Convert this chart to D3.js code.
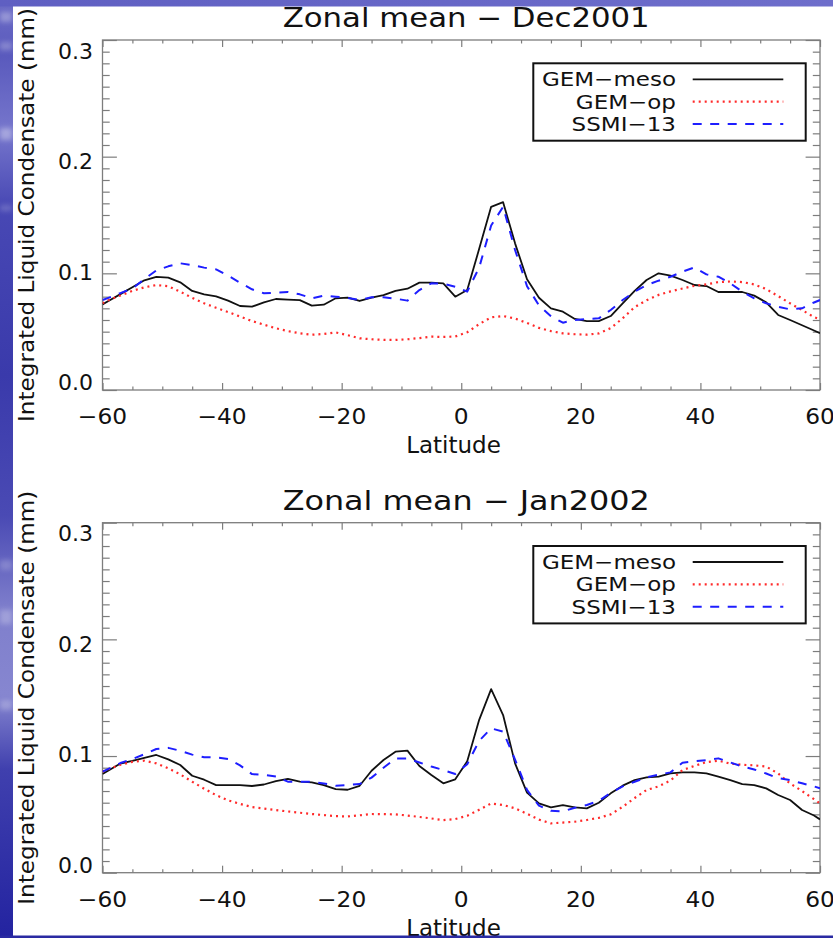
<!DOCTYPE html>
<html>
<head>
<meta charset="utf-8">
<script src="https://cdn.jsdelivr.net/npm/d3@7"></script>
<style>
  html, body { margin: 0; padding: 0; background: #ffffff; }
  svg { display: block; }
  text { font-family: "DejaVu Sans", "Liberation Sans", sans-serif; fill: #111; }
</style>
</head>
<body>
<svg id="chart" width="833" height="938"></svg>
<script>
// Latitude grid of the zonal means (degrees)
const latitudes = [-60, -59, -57, -55, -53, -51, -49, -47, -45, -43, -41, -39, -37, -35, -33, -31,
  -29, -27, -25, -23, -21, -19, -17, -15, -13, -11, -9, -7, -5, -3, -1,
  1, 3, 5, 7, 9, 11, 13, 15, 17, 19, 21, 23, 25, 27, 29, 31, 33, 35, 37, 39,
  41, 43, 45, 47, 49, 51, 53, 55, 57, 59, 60];

// December 2001 (mm)
const decMeso = [0.0734, 0.0763, 0.0822, 0.0881, 0.094, 0.097, 0.0963, 0.0923, 0.0849, 0.082, 0.0803, 0.0766, 0.072, 0.0714, 0.0751, 0.078,
  0.0774, 0.077, 0.0723, 0.0731, 0.0786, 0.0791, 0.0763, 0.0791, 0.0814, 0.085, 0.0868, 0.092, 0.092, 0.0914, 0.08,
  0.0857, 0.121, 0.157, 0.161, 0.1257, 0.0949, 0.0791, 0.07, 0.0671, 0.0609, 0.0591, 0.0591, 0.0634, 0.0743, 0.0849, 0.0943, 0.1, 0.098, 0.0943, 0.09,
  0.0891, 0.084, 0.084, 0.084, 0.0809, 0.0751, 0.0643, 0.06, 0.0555, 0.051, 0.0486];
const decOp = [0.0743, 0.077, 0.081, 0.085, 0.088, 0.090, 0.089, 0.0843, 0.079, 0.0743, 0.0705, 0.0668, 0.063, 0.0591, 0.056, 0.0529,
  0.0505, 0.0486, 0.0474, 0.048, 0.0494, 0.047, 0.0443, 0.0435, 0.043, 0.0429, 0.0435, 0.0445, 0.0457, 0.0455, 0.0458,
  0.0495, 0.0565, 0.0623, 0.0634, 0.0612, 0.0575, 0.0532, 0.0505, 0.0486, 0.0478, 0.0474, 0.0485, 0.053, 0.0615, 0.071, 0.077, 0.0815, 0.0845, 0.087, 0.0893,
  0.0905, 0.0925, 0.093, 0.0925, 0.0905, 0.0865, 0.0805, 0.0743, 0.0685, 0.0625, 0.0606];
const decSsmi = [0.0771, 0.079, 0.083, 0.087, 0.095, 0.1025, 0.106, 0.1086, 0.107, 0.1049, 0.1034, 0.098, 0.092, 0.0863, 0.0829, 0.0835,
  0.084, 0.082, 0.0786, 0.0809, 0.08, 0.079, 0.0771, 0.0795, 0.0795, 0.0783, 0.0766, 0.0857, 0.0914, 0.0911, 0.0885,
  0.0843, 0.105, 0.141, 0.157, 0.12, 0.089, 0.0725, 0.0633, 0.0577, 0.06, 0.0609, 0.0614, 0.0686, 0.0771, 0.0843, 0.09, 0.0937, 0.0971, 0.1014, 0.1051,
  0.0991, 0.0971, 0.0914, 0.0843, 0.0786, 0.0743, 0.0714, 0.0691, 0.07, 0.075, 0.0771];

// January 2002 (mm)
const janMeso = [0.0846, 0.0876, 0.0936, 0.0958, 0.0985, 0.1009, 0.0971, 0.0923, 0.0831, 0.0797, 0.0751, 0.0751, 0.0751, 0.0743, 0.0756, 0.0785,
  0.0805, 0.078, 0.0774, 0.0751, 0.0717, 0.0711, 0.0745, 0.0874, 0.0966, 0.1037, 0.1046, 0.0914, 0.0837, 0.0766, 0.08,
  0.0955, 0.131, 0.1574, 0.1351, 0.0937, 0.0686, 0.0594, 0.056, 0.058, 0.056, 0.0551, 0.06, 0.068, 0.0746, 0.0794, 0.0817, 0.0823, 0.0851, 0.086, 0.086,
  0.0851, 0.0823, 0.0794, 0.076, 0.0751, 0.0723, 0.0666, 0.0623, 0.0537, 0.049, 0.0457];
const janOp = [0.0866, 0.0888, 0.0925, 0.095, 0.096, 0.0937, 0.0895, 0.0843, 0.078, 0.072, 0.0665, 0.062, 0.059, 0.0563, 0.055, 0.0537,
  0.0525, 0.0514, 0.0503, 0.0494, 0.0485, 0.0482, 0.0492, 0.0503, 0.0502, 0.05, 0.049, 0.0478, 0.0465, 0.0451, 0.046,
  0.0488, 0.054, 0.0594, 0.058, 0.0552, 0.0505, 0.0455, 0.0423, 0.043, 0.0437, 0.0452, 0.047, 0.05, 0.0565, 0.064, 0.0709, 0.074, 0.079, 0.088, 0.0915,
  0.0948, 0.096, 0.0935, 0.0925, 0.092, 0.091, 0.085, 0.0765, 0.07, 0.063, 0.0594];
const janSsmi = [0.0866, 0.089, 0.094, 0.0975, 0.1015, 0.106, 0.107, 0.1045, 0.1012, 0.099, 0.0989, 0.0975, 0.092, 0.0845, 0.0838, 0.0825,
  0.078, 0.078, 0.078, 0.0765, 0.0746, 0.0752, 0.076, 0.0815, 0.09, 0.0978, 0.098, 0.0945, 0.091, 0.088, 0.0846,
  0.093, 0.113, 0.1237, 0.121, 0.097, 0.071, 0.0575, 0.053, 0.0525, 0.0557, 0.058, 0.0615, 0.0685, 0.074, 0.078, 0.0817, 0.084, 0.086, 0.0943, 0.0955,
  0.0965, 0.098, 0.0945, 0.091, 0.0885, 0.085, 0.081, 0.0794, 0.0766, 0.074, 0.0723];

const seriesNames = ["GEM\u2212meso", "GEM\u2212op", "SSMI\u221213"];
const panelTitles = ["Zonal mean \u2212 Dec2001", "Zonal mean \u2212 Jan2002"];
const xTickValues = [-60, -40, -20, 0, 20, 40, 60];
const yTickValues = [0.0, 0.1, 0.2, 0.3];
const xLabel = "Latitude";
const yLabel = "Integrated Liquid Condensate (mm)";

// ---- styling / layout ----
const W = 833, H = 938;
const plotLeft = 102.5, plotRight = 820, plotH = 350;
const panelTops = [40, 522.7];
const frameColor = "#7d7d7d";
const lineStyles = [
  { color: "#111111", width: 1.8, dash: null },
  { color: "#ff2a2a", width: 2.2, dash: "2,4" },
  { color: "#1e1eff", width: 2.0, dash: "9,8.5" }
];
const panels = [
  { title: panelTitles[0], series: [decMeso, decOp, decSsmi] },
  { title: panelTitles[1], series: [janMeso, janOp, janSsmi] }
];

const svg = d3.select("#chart");
const defs = svg.append("defs");

// slide background: blue band on the left and top edge
const bandGrad = defs.append("linearGradient").attr("id", "bandGrad")
  .attr("x1", 0).attr("y1", 0).attr("x2", 0).attr("y2", 1);
[[0, "#6c6cc6"], [0.06, "#5a5abd"], [0.14, "#7676cc"], [0.22, "#4848b4"], [0.4, "#3a3aab"],
 [0.55, "#4a4ab4"], [0.65, "#7f7fcc"], [0.74, "#8686d0"], [0.82, "#4040ae"], [1, "#2323a0"]]
  .forEach(([o, c]) => bandGrad.append("stop").attr("offset", o).attr("stop-color", c));
const topGrad = defs.append("linearGradient").attr("id", "topGrad")
  .attr("x1", 0).attr("y1", 0).attr("x2", 1).attr("y2", 0);
topGrad.append("stop").attr("offset", 0).attr("stop-color", "#5f5fc2");
topGrad.append("stop").attr("offset", 1).attr("stop-color", "#6e6ecb");
const soft = defs.append("filter").attr("id", "soft").attr("x", "-50%").attr("y", "-50%").attr("width", "200%").attr("height", "200%");
soft.append("feGaussianBlur").attr("stdDeviation", 2.5);

svg.append("rect").attr("width", W).attr("height", H).attr("fill", "#ffffff");
svg.append("rect").attr("x", 0).attr("y", 0).attr("width", 13).attr("height", H).attr("fill", "url(#bandGrad)");
const streaks = svg.append("g").attr("filter", "url(#soft)").attr("fill", "#ffffff");
[[12, 10, 0.3], [42, 8, 0.25], [128, 12, 0.35], [205, 6, 0.2], [560, 10, 0.2], [610, 14, 0.25], [700, 10, 0.25]]
  .forEach(([y, h, o]) => streaks.append("rect").attr("x", 0).attr("y", y).attr("width", 12).attr("height", h).attr("opacity", o));
svg.append("rect").attr("x", 0).attr("y", 0).attr("width", W).attr("height", 6.5).attr("fill", "url(#topGrad)");

const x = d3.scaleLinear().domain([-60, 60]).range([plotLeft, plotRight]);
const xMinor = d3.range(-60, 61, 5).filter(v => v % 20 !== 0);
const yMinor = d3.range(0, 31).filter(i => i % 10 !== 0).map(i => i / 100);

function tickGroup(g, axis, values, size) {
  g.call(axis.tickValues(values).tickSize(size).tickFormat(""));
  g.select(".domain").remove();
  g.selectAll(".tick line").attr("stroke", frameColor).attr("stroke-width", 1.2);
}

// stretch a text's glyphs by a factor, keeping its anchor
function widen(t, k) {
  const len = t.node().getComputedTextLength();
  t.attr("textLength", len * k).attr("lengthAdjust", "spacingAndGlyphs");
}

panels.forEach((p, pi) => {
  const top = panelTops[pi], bottom = top + plotH;
  const y = d3.scaleLinear().domain([0, 0.3]).range([bottom, top]);
  // tick labels sit on their own slightly compressed scale
  const yLab = d3.scaleLinear().domain([0, 0.3]).range([bottom, top + 18.5]);
  const g = svg.append("g");

  const clipId = "clip" + pi;
  defs.append("clipPath").attr("id", clipId).append("rect")
    .attr("x", plotLeft).attr("y", top).attr("width", plotRight - plotLeft).attr("height", plotH);

  // ticks on all four sides, pointing inward
  const xMaj = xTickValues, yMaj = yTickValues;
  tickGroup(g.append("g").attr("transform", `translate(0,${bottom})`), d3.axisTop(x), xMaj, 7);
  tickGroup(g.append("g").attr("transform", `translate(0,${bottom})`), d3.axisTop(x), xMinor, 3.5);
  tickGroup(g.append("g").attr("transform", `translate(0,${top})`), d3.axisBottom(x), xMaj, 7);
  tickGroup(g.append("g").attr("transform", `translate(0,${top})`), d3.axisBottom(x), xMinor, 3.5);
  tickGroup(g.append("g").attr("transform", `translate(${plotLeft},0)`), d3.axisRight(y), yMaj, 14.4);
  tickGroup(g.append("g").attr("transform", `translate(${plotLeft},0)`), d3.axisRight(y), yMinor, 7.2);
  tickGroup(g.append("g").attr("transform", `translate(${plotRight},0)`), d3.axisLeft(y), yMaj, 14.4);
  tickGroup(g.append("g").attr("transform", `translate(${plotRight},0)`), d3.axisLeft(y), yMinor, 7.2);

  g.append("rect").attr("x", plotLeft).attr("y", top)
    .attr("width", plotRight - plotLeft).attr("height", plotH)
    .attr("fill", "none").attr("stroke", frameColor).attr("stroke-width", 1.3);

  // tick labels
  const fx = d3.format("d"), fy = d3.format(".1f");
  g.selectAll(".xl").data(xTickValues).join("text")
    .attr("x", d => x(d)).attr("y", bottom + 34.3)
    .attr("text-anchor", "middle").attr("font-size", 22).text(d => fx(d))
    .each(function () { widen(d3.select(this), 1.06); });
  g.selectAll(".yl").data(yTickValues).join("text")
    .attr("x", 93).attr("y", d => yLab(d))
    .attr("text-anchor", "end").attr("font-size", 22).text(d => fy(d));

  // titles
  g.append("text").attr("x", 282.7).attr("y", top - 12.7)
    .attr("font-size", 27).attr("textLength", 367).attr("lengthAdjust", "spacingAndGlyphs")
    .text(p.title);
  g.append("text").attr("x", 453.5).attr("y", bottom + 63.3)
    .attr("text-anchor", "middle").attr("font-size", 23).text(xLabel);
  g.append("text")
    .attr("transform", `translate(33.5,${(top + bottom) / 2}) rotate(-90)`)
    .attr("text-anchor", "middle").attr("font-size", 22)
    .attr("textLength", 414).attr("lengthAdjust", "spacingAndGlyphs")
    .text(yLabel);

  // data lines
  const line = d3.line().x((d, i) => x(latitudes[i])).y(d => y(d));
  const lines = g.append("g").attr("clip-path", `url(#${clipId})`);
  p.series.forEach((vals, si) => {
    const st = lineStyles[si];
    lines.append("path").datum(vals)
      .attr("d", line)
      .attr("fill", "none")
      .attr("stroke", st.color)
      .attr("stroke-width", st.width)
      .attr("stroke-linejoin", "round")
      .attr("stroke-dasharray", st.dash);
  });

  // legend
  const lg = g.append("g");
  lg.append("rect").attr("x", 533.3).attr("y", top + 23.3)
    .attr("width", 272.4).attr("height", 77.4)
    .attr("fill", "#ffffff").attr("stroke", "#111").attr("stroke-width", 2);
  seriesNames.forEach((name, si) => {
    const st = lineStyles[si];
    const t = lg.append("text").attr("x", 676).attr("y", top + 46 + si * 22.5)
      .attr("text-anchor", "end").attr("font-size", 20).text(name);
    widen(t, 1.15);
    lg.append("line")
      .attr("x1", 692.7).attr("x2", 783.3)
      .attr("y1", top + 39.3 + si * 22.4).attr("y2", top + 39.3 + si * 22.4)
      .attr("stroke", st.color).attr("stroke-width", st.width)
      .attr("stroke-dasharray", st.dash);
  });
});

// thin slide border along the bottom edge, drawn over the page
svg.append("rect").attr("x", 0).attr("y", 935.5).attr("width", W).attr("height", 2.5).attr("fill", "#2a2aa2");
</script>
</body>
</html>
